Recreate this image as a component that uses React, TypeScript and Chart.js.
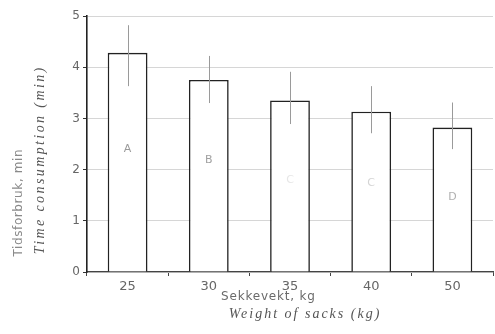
import React, { useEffect, useRef } from "react";
import { Chart, registerables } from "chart.js";

Chart.register(...registerables);

// Sack weight categories (kg)
const sackWeights = ["25", "30", "35", "40", "50"];
// Mean time consumption (min)
const meanTime = [4.28, 3.75, 3.35, 3.13, 2.82];
// Error bar extents (min)
const errUpper = [4.82, 4.22, 3.91, 3.63, 3.31];
const errLower = [3.63, 3.3, 2.89, 2.71, 2.4];
// Group letters written inside the bars and their heights on the value axis
const groupLetters = ["A", "B", "C", "C", "D"];
const letterLevels = [2.4, 2.18, 1.8, 1.74, 1.47];
const letterColors = ["#9a9a9a", "#a0a0a0", "#e6e6e6", "#d4d4d4", "#b0b0b0"];
const yTicks = [0, 1, 2, 3, 4, 5];

function spacedText(ctx: any, text: string, x: number, y: number, spacing: number) {
  ctx.letterSpacing = spacing + "px";
  ctx.fillText(text, x + spacing / 2, y);
  ctx.letterSpacing = "0px";
}

const overlayPlugin = {
  id: "overlay",
  afterDatasetsDraw(chart: any) {
    const { ctx, scales } = chart;
    const xs = scales.x;
    const ys = scales.y;
    ctx.save();
    // vertical error bars
    ctx.strokeStyle = "#9a9a9a";
    ctx.lineWidth = 1;
    sackWeights.forEach((_, i) => {
      const x = Math.round(xs.getPixelForValue(i)) + 0.5;
      ctx.beginPath();
      ctx.moveTo(x, ys.getPixelForValue(errUpper[i]));
      ctx.lineTo(x, ys.getPixelForValue(errLower[i]));
      ctx.stroke();
    });
    // letters inside bars
    ctx.font = "11px 'DejaVu Sans', sans-serif";
    ctx.textAlign = "center";
    ctx.textBaseline = "middle";
    groupLetters.forEach((l, i) => {
      ctx.fillStyle = letterColors[i];
      ctx.fillText(l, xs.getPixelForValue(i), ys.getPixelForValue(letterLevels[i]));
    });
    ctx.restore();
  },
  afterDraw(chart: any) {
    const { ctx } = chart;
    ctx.save();
    ctx.textAlign = "center";
    ctx.textBaseline = "middle";
    // x axis titles
    ctx.font = "12px 'DejaVu Sans', sans-serif";
    ctx.fillStyle = "#6a6a6a";
    spacedText(ctx, "Sekkevekt, kg", 268, 297, 0.8);
    ctx.font = "italic 14px 'Liberation Serif', serif";
    ctx.fillStyle = "#555";
    spacedText(ctx, "Weight of sacks (kg)", 304, 314, 2);
    // y axis titles
    ctx.save();
    ctx.translate(19, 203);
    ctx.rotate(-Math.PI / 2);
    ctx.font = "12px 'DejaVu Sans', sans-serif";
    ctx.fillStyle = "#8a8a8a";
    spacedText(ctx, "Tidsforbruk, min", 0, 0, 0.6);
    ctx.restore();
    ctx.save();
    ctx.translate(40, 161);
    ctx.rotate(-Math.PI / 2);
    ctx.font = "italic 14px 'Liberation Serif', serif";
    ctx.fillStyle = "#555";
    spacedText(ctx, "Time consumption (min)", 0, 0, 2.4);
    ctx.restore();
    ctx.restore();
  },
};

export default function App() {
  const ref = useRef<HTMLCanvasElement | null>(null);

  useEffect(() => {
    document.body.style.margin = "0";
    const canvas = ref.current;
    if (!canvas) return;
    const chart = new Chart(canvas, {
      type: "bar",
      data: {
        labels: sackWeights,
        datasets: [
          {
            data: meanTime,
            backgroundColor: "#ffffff",
            borderColor: "#222222",
            borderWidth: 1.6,
            categoryPercentage: 1,
            barPercentage: 0.49,
          },
        ],
      },
      options: {
        animation: false,
        responsive: false,
        maintainAspectRatio: false,
        layout: { padding: { top: 16, right: 2, left: 0, bottom: 0 } },
        plugins: {
          legend: { display: false },
          tooltip: { enabled: false },
          title: { display: false },
        },
        scales: {
          x: {
            offset: true,
            grid: {
              offset: true,
              drawOnChartArea: false,
              tickLength: 4,
              tickColor: "#444",
            },
            border: { color: "#444", width: 1.2 },
            ticks: {
              color: "#666",
              font: { size: 13, family: "'DejaVu Sans', sans-serif" },
              padding: 3,
            },
            afterFit(s: any) {
              s.height = 62;
            },
          },
          y: {
            min: 0,
            max: 5,
            afterBuildTicks(s: any) {
              s.ticks = yTicks.map((v) => ({ value: v }));
            },
            grid: {
              color: "#d6d6d6",
              lineWidth: 1,
              tickLength: 4,
              tickColor: "#333",
            },
            border: { color: "#222", width: 1.6 },
            ticks: {
              color: "#666",
              font: { size: 12, family: "'DejaVu Sans', sans-serif" },
              padding: 3,
            },
            afterFit(s: any) {
              s.width = 87;
            },
          },
        },
      },
      plugins: [overlayPlugin],
    });
    return () => chart.destroy();
  }, []);

  return <canvas ref={ref} width={495} height={334} style={{ display: "block" }} />;
}
